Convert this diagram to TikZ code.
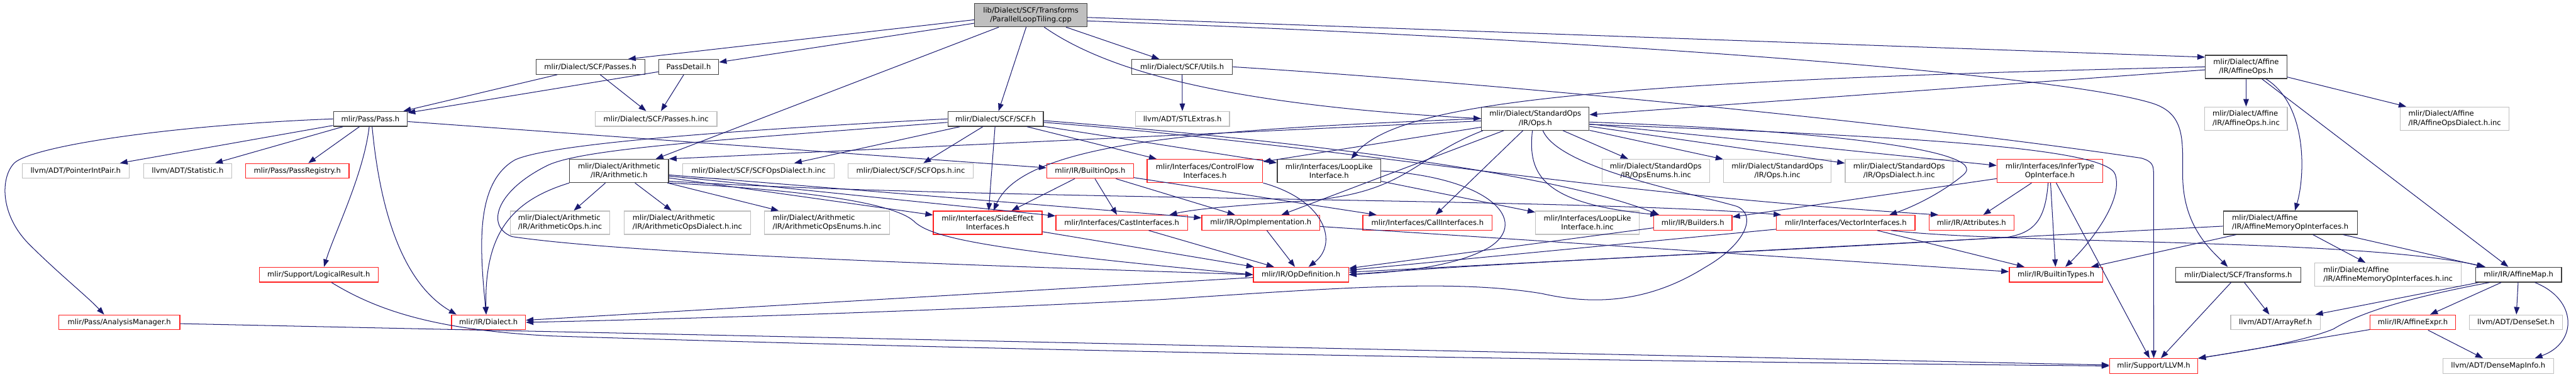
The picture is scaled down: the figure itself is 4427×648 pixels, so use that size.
\documentclass[tikz,border=0pt]{standalone}
\usepackage{fontspec}
\setmainfont{DejaVu Sans}
\usetikzlibrary{arrows.meta}
\definecolor{edgec}{HTML}{191970}
\definecolor{nblack}{HTML}{404040}
\definecolor{nred}{HTML}{FF2020}
\definecolor{ngray}{HTML}{BFBFBF}
\begin{document}
\begin{tikzpicture}[x=1pt,y=-1pt,
  nd/.style={rectangle, inner sep=0pt, line width=1.4pt, font=\fontsize{12.5}{15.3}\selectfont, align=center, minimum height=25.5pt},
  two/.style={minimum height=40pt},
  lft/.style={align=left},
  blk/.style={nd, draw=nblack},
  rd/.style={nd, draw=nred},
  gr/.style={nd, draw=ngray},
  rootn/.style={nd, draw=nblack, fill=ngray},
  edg/.style={draw=edgec, line width=1.1pt, -{Triangle[length=13pt,width=9.5pt]}}
]
\useasboundingbox (0,0) rectangle (4427,648);
% row 0
\node[rootn,two,minimum width=193pt] (cpp) at (1771.5,26) {lib/Dialect/SCF/Transforms\\/ParallelLoopTiling.cpp};
% row 1
\node[blk,minimum width=187pt] (passesh) at (1014.5,115) {mlir/Dialect/SCF/Passes.h};
\node[blk,minimum width=103pt] (pdetail) at (1183.5,115) {PassDetail.h};
\node[blk,minimum width=173pt] (utils) at (2031.5,115) {mlir/Dialect/SCF/Utils.h};
\node[blk,two,minimum width=140pt] (affops) at (3860,115) {mlir/Dialect/Affine\\/IR/AffineOps.h};
% row 2
\node[blk,minimum width=127pt] (pass) at (636.5,204.5) {mlir/Pass/Pass.h};
\node[gr,minimum width=209pt] (passesinc) at (1127.5,204.5) {mlir/Dialect/SCF/Passes.h.inc};
\node[blk,minimum width=164pt] (scf) at (1711,204.5) {mlir/Dialect/SCF/SCF.h};
\node[gr,minimum width=162pt] (stlext) at (2032,204.5) {llvm/ADT/STLExtras.h};
\node[blk,two,minimum width=185pt] (stdops) at (2638.5,204) {mlir/Dialect/StandardOps\\/IR/Ops.h};
\node[gr,two,lft,minimum width=142pt] (affopsinc) at (3860,204) {mlir/Dialect/Affine\\/IR/AffineOps.h.inc};
\node[gr,two,lft,minimum width=187pt] (affopsdia) at (4218.5,204) {mlir/Dialect/Affine\\/IR/AffineOpsDialect.h.inc};
% row 3
\node[gr,minimum width=184pt] (pip) at (130,294) {llvm/ADT/PointerIntPair.h};
\node[gr,minimum width=151pt] (stat) at (322.5,294) {llvm/ADT/Statistic.h};
\node[rd,minimum width=178pt] (preg) at (511,294) {mlir/Pass/PassRegistry.h};
\node[blk,two,minimum width=170pt] (arith) at (1064,294) {mlir/Dialect/Arithmetic\\/IR/Arithmetic.h};
\node[gr,minimum width=260.5pt] (scfopsdia) at (1303.75,294) {mlir/Dialect/SCF/SCFOpsDialect.h.inc};
\node[gr,minimum width=214.5pt] (scfops) at (1565,294) {mlir/Dialect/SCF/SCFOps.h.inc};
\node[rd,minimum width=149pt] (bops) at (1873.5,294) {mlir/IR/BuiltinOps.h};
\node[rd,two,minimum width=198.5pt] (cflow) at (2070.75,294) {mlir/Interfaces/ControlFlow\\Interfaces.h};
\node[blk,two,minimum width=178pt] (looplike) at (2284,294) {mlir/Interfaces/LoopLike\\Interface.h};
\node[gr,two,minimum width=185pt] (opsenums) at (2845.5,294) {mlir/Dialect/StandardOps\\/IR/OpsEnums.h.inc};
\node[gr,two,minimum width=185pt] (opsinc) at (3054.5,294) {mlir/Dialect/StandardOps\\/IR/Ops.h.inc};
\node[gr,two,minimum width=185.5pt] (opsdia) at (3263.75,294) {mlir/Dialect/StandardOps\\/IR/OpsDialect.h.inc};
\node[rd,two,minimum width=181.5pt] (infer) at (3522.75,294) {mlir/Interfaces/InferType\\OpInterface.h};
% row 4
\node[gr,two,lft,minimum width=171pt] (arithopsinc) at (962.5,383) {mlir/Dialect/Arithmetic\\/IR/ArithmeticOps.h.inc};
\node[gr,two,lft,minimum width=217.5pt] (arithopsdia) at (1181.25,383) {mlir/Dialect/Arithmetic\\/IR/ArithmeticOpsDialect.h.inc};
\node[gr,two,lft,minimum width=214.5pt] (arithenums) at (1421.25,383) {mlir/Dialect/Arithmetic\\/IR/ArithmeticOpsEnums.h.inc};
\node[rd,two,minimum width=187pt] (sideeff) at (1697.5,383) {mlir/Interfaces/SideEffect\\Interfaces.h};
\node[rd,minimum width=226.5pt] (cast) at (1927.75,383) {mlir/Interfaces/CastInterfaces.h};
\node[rd,minimum width=202.5pt] (opimpl) at (2166.75,383) {mlir/IR/OpImplementation.h};
\node[rd,minimum width=222.5pt] (call) at (2453.25,383) {mlir/Interfaces/CallInterfaces.h};
\node[gr,two,minimum width=178pt] (looplikeinc) at (2728,383) {mlir/Interfaces/LoopLike\\Interface.h.inc};
\node[rd,minimum width=134.5pt] (builders) at (2909.25,383) {mlir/IR/Builders.h};
\node[rd,minimum width=238pt] (vector) at (3172,383) {mlir/Interfaces/VectorInterfaces.h};
\node[rd,minimum width=146pt] (attrs) at (3388,383) {mlir/IR/Attributes.h};
\node[blk,two,lft,minimum width=230pt] (affmem) at (3936,383) {mlir/Dialect/Affine\\/IR/AffineMemoryOpInterfaces.h};
% row 5
\node[rd,minimum width=204.5pt] (logres) at (547.75,472.5) {mlir/Support/LogicalResult.h};
\node[rd,minimum width=163.5pt] (opdef) at (2235.75,472.5) {mlir/IR/OpDefinition.h};
\node[rd,minimum width=160.5pt] (btypes) at (3533.25,472.5) {mlir/IR/BuiltinTypes.h};
\node[blk,minimum width=215pt] (scftr) at (3846.5,472.5) {mlir/Dialect/SCF/Transforms.h};
\node[gr,two,lft,minimum width=252pt] (affmeminc) at (4104,472.5) {mlir/Dialect/Affine\\/IR/AffineMemoryOpInterfaces.h.inc};
\node[blk,minimum width=147.5pt] (affmap) at (4328.25,472.5) {mlir/IR/AffineMap.h};
% row 6
\node[rd,minimum width=208pt] (amgr) at (205,554.5) {mlir/Pass/AnalysisManager.h};
\node[rd,minimum width=127pt] (dialect) at (839.5,554.5) {mlir/IR/Dialect.h};
\node[gr,minimum width=154pt] (arrayref) at (3910.5,554.5) {llvm/ADT/ArrayRef.h};
\node[rd,minimum width=147pt] (affexpr) at (4146.5,554.5) {mlir/IR/AffineExpr.h};
\node[gr,minimum width=160.5pt] (denseset) at (4323.75,554.5) {llvm/ADT/DenseSet.h};
% row 7
\node[rd,minimum width=151.5pt] (llvm) at (3701.25,629.5) {mlir/Support/LLVM.h};
\node[gr,minimum width=190.5pt] (dmi) at (4293.25,629.5) {llvm/ADT/DenseMapInfo.h};

% ---- edges from cpp
\draw[edg] ([yshift=-8pt]cpp.west) -- ([xshift=65pt]passesh.north);
\draw[edg] ([yshift=-14pt]cpp.west) -- ([yshift=8pt]pdetail.east);
\draw[edg] ([xshift=-55pt]cpp.south) -- ([xshift=63pt]arith.north);
\draw[edg] ([xshift=-8pt]cpp.south) -- ([xshift=5pt]scf.north);
\draw[edg] (cpp) -- (utils);
\draw[edg] ([xshift=23pt]cpp.south) .. controls (1900,120) and (2100,180) .. (stdops.west);
\draw[edg] ([yshift=-4pt]cpp.east) -- ([yshift=-4pt]affops.north west);
\draw[edg] ([yshift=-10pt]cpp.east) .. controls (2800,70) and (3550,130) .. (3700,178) .. controls (3755,196) and (3751,240) .. (3751,300) .. controls (3751,390) and (3800,430) .. ([xshift=-18pt]scftr.north);
% ---- passes / pass detail
\draw[edg] (passesh) -- (pass);
\draw[edg] (pdetail) -- (pass);
\draw[edg] (passesh) -- (passesinc);
\draw[edg] (pdetail) -- (passesinc);
% ---- Pass.h
\draw[edg] (pass.west) .. controls (300,215) and (60,250) .. (25,280) .. controls (0,305) and (0,370) .. (50,420) .. controls (100,470) and (150,510) .. ([xshift=-26pt]amgr.north);
\draw[edg] (pass) -- (pip);
\draw[edg] (pass) -- (stat);
\draw[edg] (pass) -- (preg);
\draw[edg] ([xshift=-2pt]pass.south) .. controls (625,300) and (575,400) .. ([xshift=9pt]logres.north);
\draw[edg] ([xshift=3pt]pass.south) .. controls (650,330) and (680,480) .. ([xshift=-55pt]dialect.north);
\draw[edg] (pass) -- (bops);
% ---- Utils, Transforms
\draw[edg] (utils) -- (stlext);
\draw[edg] (utils.east) .. controls (2600,145) and (3300,215) .. (3680,272) .. controls (3700,278) and (3701,285) .. (3701,300) -- (llvm.north);
\draw[edg] (scftr) -- (arrayref);
\draw[edg] (scftr) -- (llvm);
% ---- AffineOps
\draw[edg] (affops) -- (affopsinc);
\draw[edg] (affops) -- (affopsdia);
\draw[edg] ([xshift=34pt]affops.south) .. controls (3965,180) and (3962,300) .. ([xshift=8pt]affmem.north);
\draw[edg] (affops) -- (affmap);
\draw[edg] (affops) -- (stdops);
\draw[edg] (affops.west) .. controls (2700,140) and (2400,180) .. ([xshift=38pt]looplike.north);
% ---- AffineMemoryOpInterfaces
\draw[edg] (affmem) -- (affmeminc);
\draw[edg] (affmem) -- (affmap);
\draw[edg] (affmem) -- (opdef);
\draw[edg] (affmem) -- (btypes);
% ---- AffineMap / AffineExpr
\draw[edg] (affmap) -- (arrayref);
\draw[edg] (affmap) -- (affexpr);
\draw[edg] (affmap) -- (denseset);
\draw[edg] ([xshift=-50pt]affmap.south) .. controls (4150,510) and (4060,535) .. (4010,566) .. controls (3950,590) and (3850,605) .. (llvm.north east);
\draw[edg] ([xshift=28pt]affmap.south) .. controls (4430,515) and (4430,590) .. ([xshift=63pt]dmi.north);
\draw[edg] (affexpr) -- (llvm);
\draw[edg] (affexpr) -- (dmi);
% ---- VectorInterfaces
\draw[edg] ([xshift=78pt]vector.south) .. controls (3450,420) and (4050,410) .. ([xshift=-57pt]affmap.north);
\draw[edg] (vector) -- (btypes);
\draw[edg] (vector) -- (opdef);
% ---- InferTypeOpInterface
\draw[edg] (infer) -- (attrs);
\draw[edg] (infer) -- (btypes);
\draw[edg] (infer) -- (llvm);
\draw[edg] (infer) -- (builders);
\draw[edg] ([xshift=-3pt]infer.south) .. controls (3515,380) and (3495,400) .. (3450,408) .. controls (3100,430) and (2600,450) .. (opdef.east);
% ---- StandardOps/IR/Ops.h
\draw[edg] (stdops) -- (opsenums);
\draw[edg] (stdops) -- (opsinc);
\draw[edg] (stdops) -- (opsdia);
\draw[edg] (stdops) -- (infer);
\draw[edg] ([yshift=-10pt]stdops.east) .. controls (3300,235) and (3620,255) .. (3635,300) .. controls (3650,345) and (3590,420) .. ([xshift=16pt]btypes.north);
\draw[edg] ([yshift=-6pt]stdops.east) .. controls (3150,225) and (3420,260) .. (3375,300) .. controls (3340,330) and (3290,355) .. ([xshift=75pt]vector.north);
\draw[edg] ([xshift=-5pt]stdops.south) .. controls (2625,300) and (2650,350) .. ([xshift=-60pt]builders.north);
\draw[edg] (stdops) -- (call);
\draw[edg] (stdops) -- (opimpl);
\draw[edg] (stdops) -- (cflow);
\draw[edg] (stdops.west) .. controls (2100,222) and (1760,240) .. ([xshift=10pt]sideeff.north);
\draw[edg] ([xshift=-90pt]stdops.south) .. controls (2430,270) and (2420,330) .. (2250,345) .. controls (2150,352) and (2060,358) .. ([xshift=82pt]cast.north);
\draw[edg] ([yshift=-4pt]stdops.west) -- (arith.north east);
\draw[edg] ([xshift=13pt]stdops.south) .. controls (2680,290) and (2900,330) .. (2985,355) .. controls (3020,370) and (3000,420) .. (2930,460) .. controls (2850,510) and (2760,530) .. (2650,505) .. controls (2500,480) and (2300,495) .. (2000,515) .. controls (1500,540) and (1100,550) .. (dialect.east);
% ---- SCF.h
\draw[edg] (scf.west) .. controls (1300,222) and (950,245) .. (885,275) .. controls (815,315) and (825,430) .. ([xshift=-4pt]dialect.north);
\draw[edg] ([yshift=-6pt]scf.west) .. controls (1250,240) and (1000,255) .. (940,285) .. controls (850,330) and (835,390) .. (880,407) .. controls (1100,440) and (1800,460) .. (opdef.west);
\draw[edg] (scf) -- (scfopsdia);
\draw[edg] (scf) -- (scfops);
\draw[edg] (scf) -- (sideeff);
\draw[edg] (scf) -- (cflow);
\draw[edg] (scf) -- (looplike);
\draw[edg] ([yshift=-3pt]scf.east) .. controls (2150,235) and (2650,290) .. ([xshift=-58pt]builders.north);
\draw[edg] ([yshift=-6pt]scf.east) .. controls (2300,250) and (2700,330) .. ([xshift=-57pt]attrs.north);
% ---- Arithmetic.h
\draw[edg] (arith) -- (arithopsinc);
\draw[edg] (arith) -- (arithopsdia);
\draw[edg] (arith) -- (arithenums);
\draw[edg] (arith.south west) .. controls (880,345) and (832,400) .. ([xshift=-4pt]dialect.north);
\draw[edg] (arith) -- (sideeff);
\draw[edg] (arith) -- (cast);
\draw[edg] (arith) -- (opimpl);
\draw[edg] (arith.south east) .. controls (1350,325) and (1530,345) .. (1570,380) .. controls (1600,410) and (1700,430) .. (opdef.west);
\draw[edg] ([yshift=3pt]arith.south east) .. controls (1700,345) and (2700,340) .. ([xshift=-111pt]vector.north);
% ---- BuiltinOps.h
\draw[edg] (bops) -- (sideeff);
\draw[edg] (bops) -- (cast);
\draw[edg] (bops) -- (opimpl);
\draw[edg] (bops) -- (call);
% ---- interfaces
\draw[edg] (cflow.south east) .. controls (2280,345) and (2300,420) .. ([xshift=13pt]opdef.north);
\draw[edg] (looplike.east) .. controls (2560,305) and (2630,380) .. (2560,425) .. controls (2500,460) and (2400,468) .. (opdef.east);
\draw[edg] (looplike) -- (looplikeinc);
\draw[edg] (sideeff) -- (opdef);
\draw[edg] (cast) -- (opdef);
\draw[edg] (opimpl) -- (opdef);
\draw[edg] (opimpl) -- (btypes);
\draw[edg] (builders) -- (opdef);
\draw[edg] (opdef) -- (dialect);
% ---- to LLVM.h
\draw[edg] ([xshift=22pt]logres.south) .. controls (650,535) and (750,568) .. (950,578) .. controls (1800,605) and (2800,622) .. (llvm.west);
\draw[edg] (amgr) -- (llvm);
\end{tikzpicture}
\end{document}
